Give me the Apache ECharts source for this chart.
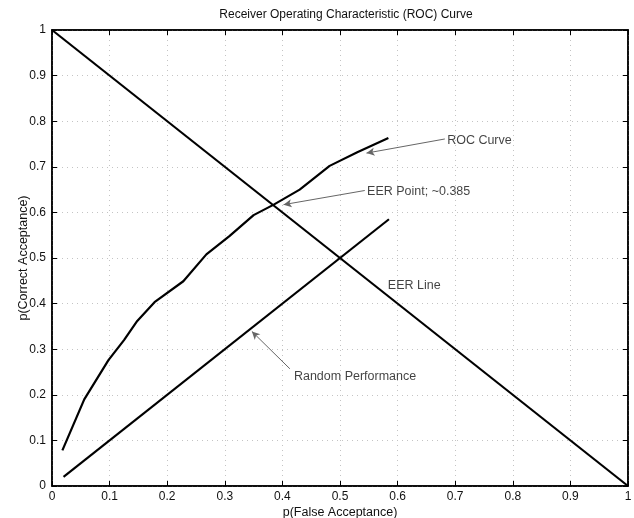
<!DOCTYPE html>
<html>
<head>
<meta charset="utf-8">
<script src="https://cdn.jsdelivr.net/npm/echarts@6/dist/echarts.min.js"></script>
<style>
  html, body { margin: 0; padding: 0; background: #fff; }
  #chart { width: 634px; height: 518px; }
</style>
</head>
<body>
<div id="chart"></div>
<script>
// ROC curve
const rocX = [0.018, 0.056, 0.098, 0.125, 0.148, 0.178, 0.228, 0.268, 0.308, 0.35, 0.385, 0.43, 0.482, 0.53, 0.584];
const rocY = [0.078, 0.19, 0.276, 0.32, 0.362, 0.403, 0.449, 0.508, 0.548, 0.594, 0.617, 0.65, 0.702, 0.732, 0.763];
// random performance (diagonal)
const randX = [0.02, 0.585];
const randY = [0.02, 0.585];
// equal error rate line
const eerX = [0, 1];
const eerY = [1, 0];

// annotations: text and arrow (from, to) in data coords
const notes = [
  { text: 'ROC Curve', at: [0.686, 0.758], from: [0.682, 0.761], to: [0.546, 0.730] },
  { text: 'EER Point; ~0.385', at: [0.547, 0.646], from: [0.543, 0.648], to: [0.402, 0.617] },
  { text: 'EER Line', at: [0.583, 0.44] },
  { text: 'Random Performance', at: [0.42, 0.24], from: [0.413, 0.257], to: [0.347, 0.339] }
];

const font = '"Liberation Sans", Arial, sans-serif';
const txt = '#111';

function zip(xs, ys) {
  return xs.map((x, i) => [x, ys[i]]);
}

function fmt(v) {
  return String(Math.round(v * 10) / 10);
}

const chart = echarts.init(document.getElementById('chart'));

const baseAxis = {
  type: 'value',
  min: 0,
  max: 1,
  interval: 0.1,
  axisLine: { show: true, onZero: false, lineStyle: { color: '#000', width: 1.5 } },
  axisTick: { show: true, inside: true, length: 5, lineStyle: { color: '#000' } }
};

chart.setOption({
  animation: false,
  backgroundColor: '#fff',
  title: {
    text: 'Receiver Operating Characteristic (ROC) Curve',
    left: 341,
    top: 4,
    textAlign: 'center',
    textStyle: { fontFamily: font, fontSize: 12, fontWeight: 'normal', color: txt }
  },
  grid: {
    left: 52, right: 6, top: 30, bottom: 32,
    outerBoundsMode: 'none',
    containLabel: false,
    show: true, borderColor: '#000', borderWidth: 1.5
  },
  xAxis: [
    Object.assign({}, baseAxis, {
      position: 'bottom',
      name: 'p(False Acceptance)',
      nameLocation: 'middle',
      nameGap: 20,
      nameMoveOverlap: false,
      nameTextStyle: { fontFamily: font, fontSize: 12.5, color: txt },
      axisLabel: { fontFamily: font, fontSize: 12, color: txt, margin: 5, formatter: fmt },
      splitLine: { show: true, lineStyle: { color: '#c4c4c4', type: [1, 4] } }
    }),
    Object.assign({}, baseAxis, {
      position: 'top',
      axisLabel: { show: false },
      splitLine: { show: false }
    })
  ],
  yAxis: [
    Object.assign({}, baseAxis, {
      position: 'left',
      name: 'p(Correct Acceptance)',
      nameLocation: 'middle',
      nameGap: 22,
      nameMoveOverlap: false,
      nameTextStyle: { fontFamily: font, fontSize: 12.5, color: txt },
      axisLabel: { fontFamily: font, fontSize: 12, color: txt, margin: 6, formatter: fmt },
      splitLine: { show: true, lineStyle: { color: '#c4c4c4', type: [1, 4] } }
    }),
    Object.assign({}, baseAxis, {
      position: 'right',
      axisLabel: { show: false },
      splitLine: { show: false }
    })
  ],
  series: [
    {
      name: 'EER Line',
      type: 'line',
      data: zip(eerX, eerY),
      showSymbol: false,
      lineStyle: { color: '#000', width: 2.2 }
    },
    {
      name: 'ROC Curve',
      type: 'line',
      data: zip(rocX, rocY),
      showSymbol: false,
      lineStyle: { color: '#000', width: 2.2 }
    },
    {
      name: 'Random Performance',
      type: 'line',
      data: zip(randX, randY),
      showSymbol: false,
      lineStyle: { color: '#000', width: 2.2 },
      markLine: {
        silent: true,
        symbol: ['none', 'arrow'],
        symbolSize: [6, 8],
        label: { show: false },
        itemStyle: { color: '#555' },
        lineStyle: { color: '#666', width: 1, type: 'solid', opacity: 1 },
        data: notes.filter(n => n.from).map(n => [{ coord: n.from }, { coord: n.to }])
      }
    },
    {
      name: 'notes',
      type: 'scatter',
      symbolSize: 0,
      data: notes.map(n => ({ value: n.at, name: n.text })),
      label: {
        show: true,
        position: 'right',
        distance: 0,
        formatter: p => p.name,
        fontFamily: font,
        fontSize: 12.5,
        color: txt
      }
    }
  ]
});
</script>
</body>
</html>
